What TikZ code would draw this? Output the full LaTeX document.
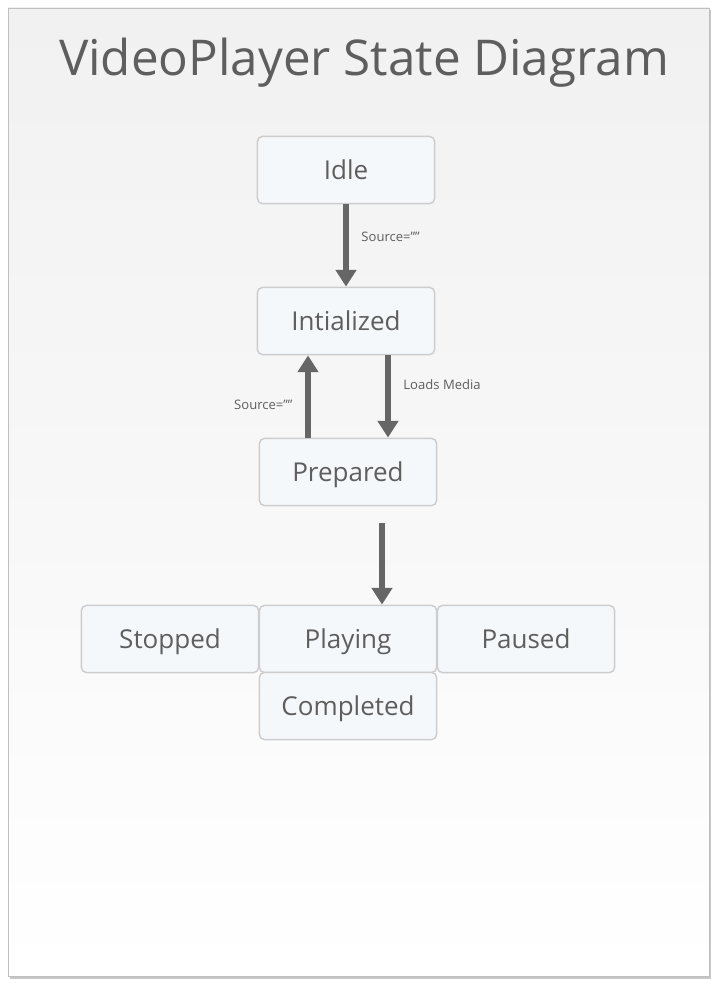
\documentclass[tikz,border=0pt]{standalone}
\usepackage{fontspec}
\setmainfont{Open Sans}
\usetikzlibrary{arrows.meta,positioning,calc}
\definecolor{txtgray}{HTML}{5E5E5E}
\definecolor{arrgray}{HTML}{666666}
\definecolor{boxfill}{HTML}{F5F8FB}
\definecolor{boxline}{HTML}{CDCDCD}
\definecolor{pagetop}{HTML}{F1F1F1}

\begin{document}
\begin{tikzpicture}[
  x=0.75pt, y=-0.75pt,
  state/.style={rectangle, rounded corners=4pt, draw=boxline, line width=1.1pt,
                fill=boxfill, minimum width=133pt, minimum height=50.5pt, inner sep=0pt,
                font=\fontsize{19.5}{22}\selectfont, text=txtgray,
                text height=13.9pt, text depth=0pt},
  arr/.style={-{Triangle[length=12.5pt,width=15pt]}, line width=4.5pt, draw=arrgray},
  lab/.style={font=\fontsize{9.8}{11}\selectfont, text=txtgray},
]
\useasboundingbox (0,0) rectangle (717,984);
% ---------- page ----------
\fill[black!22] (10,10) rectangle (711,979);
\shade[top color=pagetop, bottom color=white, middle color=white!97!black, shading angle=0]
  (8,8) rectangle (709,976);
\draw[black!25, line width=0.6pt] (8,8) rectangle (709,976);
\node[font=\fontsize{37}{42}\selectfont, text=txtgray] (title) at (364,63) {VideoPlayer State Diagram};

% ---------- states ----------
\node[state] (idle) at (346,170) {Idle};
\node[state] (init) at (346,321) {Intialized};
\node[state] (prep) at (348,472) {Prepared};
\node[state] (play) at (348,639) {Playing};
\node[state] (stop) at (170,639) {Stopped};
\node[state] (paus) at (526,639) {Paused};
\node[state] (comp) at (348,706) {Completed};

% ---------- arrows ----------
\draw[arr] (idle.south) -- node[right,lab,pos=0.4,xshift=6pt]{Source=””} (init.north);
\draw[arr] ([xshift=-30pt]prep.north) -- node[left,lab,pos=0.4,xshift=-6pt]{Source=””}
  ([xshift=-30pt]prep.north |- init.south);
\draw[arr] ([xshift=31.5pt]init.south) -- node[right,lab,pos=0.35,xshift=6pt]{Loads Media}
  ([xshift=31.5pt]init.south |- prep.north);
\coordinate (go) at (382,523);
\draw[arr] (go) -- (go |- play.north);
\end{tikzpicture}
\end{document}
